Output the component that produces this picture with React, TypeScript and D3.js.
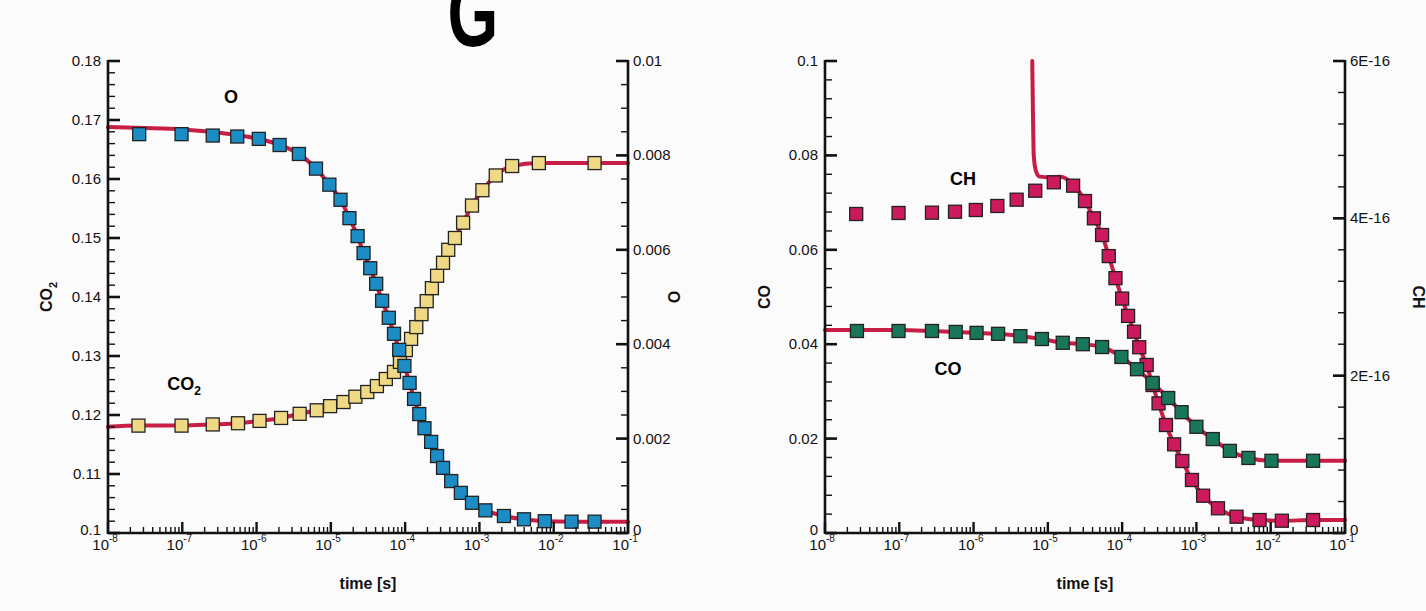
import React from 'react';
import * as d3 from 'd3';

// ---------- axes ----------
const X_EXPONENTS = [-8, -7, -6, -5, -4, -3, -2, -1];

const CO2_TICKS = [0.1, 0.11, 0.12, 0.13, 0.14, 0.15, 0.16, 0.17, 0.18];
const CO2_LABELS = ['0.1', '0.11', '0.12', '0.13', '0.14', '0.15', '0.16', '0.17', '0.18'];
const O_TICKS = [0, 0.002, 0.004, 0.006, 0.008, 0.01];
const O_LABELS = ['0', '0.002', '0.004', '0.006', '0.008', '0.01'];
const CO_TICKS = [0, 0.02, 0.04, 0.06, 0.08, 0.1];
const CO_LABELS = ['0', '0.02', '0.04', '0.06', '0.08', '0.1'];
const CH_TICKS = [0, 2e-16, 4e-16, 6e-16];
const CH_LABELS = ['0', '2E-16', '4E-16', '6E-16'];

// ---------- left panel data (log10 time, value) ----------
const O_MARK_LOGT = [-7.58, -7.01, -6.59, -6.26, -5.97, -5.69, -5.43, -5.2, -5.02, -4.87, -4.75, -4.64, -4.56, -4.47, -4.39, -4.31, -4.22, -4.15, -4.08, -4.01, -3.94, -3.88, -3.81, -3.74, -3.65, -3.57, -3.49, -3.38, -3.25, -3.1, -2.92, -2.67, -2.4, -2.12, -1.76, -1.45];
const O_MARK_VAL = [0.00845, 0.00845, 0.00842, 0.0084, 0.00835, 0.00822, 0.00803, 0.00772, 0.00738, 0.00706, 0.00667, 0.00629, 0.00593, 0.00561, 0.00528, 0.00492, 0.00456, 0.00422, 0.00388, 0.00354, 0.00318, 0.00284, 0.00252, 0.00222, 0.00193, 0.00163, 0.00138, 0.0011, 0.00085, 0.00064, 0.00048, 0.00036, 0.00029, 0.00025, 0.00024, 0.00024];
const O_LINE_HEAD_LOGT = [-8, -7.5, -7, -6.5, -6, -5.7];
const O_LINE_HEAD_VAL = [0.0086, 0.00858, 0.00855, 0.00848, 0.00836, 0.00823];
const O_LINE_TAIL_LOGT = [-1];
const O_LINE_TAIL_VAL = [0.00024];

const CO2_MARK_LOGT = [-7.59, -7.01, -6.59, -6.25, -5.96, -5.67, -5.42, -5.19, -5.01, -4.83, -4.67, -4.51, -4.38, -4.26, -4.15, -4.07, -3.99, -3.92, -3.85, -3.78, -3.71, -3.64, -3.57, -3.49, -3.42, -3.33, -3.22, -3.1, -2.96, -2.78, -2.56, -2.2, -1.45];
const CO2_MARK_VAL = [0.1182, 0.1182, 0.1184, 0.1186, 0.119, 0.1195, 0.1202, 0.1208, 0.1215, 0.1222, 0.1231, 0.1239, 0.1249, 0.1261, 0.1273, 0.129, 0.131, 0.1329, 0.1349, 0.1371, 0.1393, 0.1415, 0.1436, 0.1458, 0.148, 0.15, 0.1526, 0.1555, 0.1581, 0.1606, 0.1622, 0.1627, 0.1627];
const CO2_LINE_HEAD_LOGT = [-8];
const CO2_LINE_HEAD_VAL = [0.118];
const CO2_LINE_TAIL_LOGT = [-1];
const CO2_LINE_TAIL_VAL = [0.1627];

// ---------- right panel data ----------
const CO_MARK_LOGT = [-7.57, -7.01, -6.56, -6.24, -5.96, -5.67, -5.37, -5.08, -4.8, -4.53, -4.27, -4.01, -3.8, -3.59, -3.38, -3.2, -3.0, -2.78, -2.55, -2.3, -1.99, -1.43];
const CO_MARK_VAL = [0.0428, 0.0428, 0.0428, 0.0426, 0.0424, 0.0422, 0.0417, 0.0411, 0.0403, 0.04, 0.0394, 0.0373, 0.0347, 0.0318, 0.0286, 0.0256, 0.0225, 0.0199, 0.0174, 0.0159, 0.0153, 0.0153];
const CO_LINE_HEAD_LOGT = [-8, -7];
const CO_LINE_HEAD_VAL = [0.043, 0.043];
const CO_LINE_TAIL_LOGT = [-1];
const CO_LINE_TAIL_VAL = [0.0153];

// CH in units of 1e-16
const CH_MARK_LOGT = [-7.58, -7.01, -6.56, -6.25, -5.97, -5.68, -5.42, -5.17, -4.92, -4.66, -4.5, -4.38, -4.27, -4.18, -4.09, -4.0, -3.92, -3.84, -3.77, -3.67, -3.59, -3.51, -3.41, -3.3, -3.19, -3.06, -2.91, -2.71, -2.46, -2.15, -1.85, -1.43];
const CH_MARK_VAL = [4.055, 4.068, 4.072, 4.084, 4.106, 4.157, 4.237, 4.351, 4.458, 4.415, 4.22, 4.0, 3.788, 3.52, 3.24, 2.98, 2.76, 2.559, 2.361, 2.136, 1.881, 1.648, 1.373, 1.127, 0.915, 0.674, 0.474, 0.314, 0.207, 0.165, 0.156, 0.165];
const CH_LINE_HEAD_LOGT = [-5.21, -5.2, -5.19, -5.16, -5.11, -4.97, -4.84, -4.7];
const CH_LINE_HEAD_VAL = [6.0, 5.3, 4.8, 4.6, 4.53, 4.52, 4.53, 4.47];
const CH_LINE_TAIL_LOGT = [-1];
const CH_LINE_TAIL_VAL = [0.165];

// ---------- styling ----------
const TOP = 61;
const BOTTOM = 533;
const LINE_COLOR = '#c81d45';
const FONT = "'Liberation Sans', Arial, Helvetica, sans-serif";

type Pt = { t: number; v: number };
const zipPts = (lt: number[], v: number[], scale = 1): Pt[] => lt.map((l, i) => ({ t: Math.pow(10, l), v: v[i] * scale }));

function Panel(props: {
  x0: number; x1: number;
  lDomain: [number, number]; lTicks: number[]; lLabels: string[]; lMinor: number;
  rDomain: [number, number]; rTicks: number[]; rLabels: string[]; rMinor: number;
  lTitle: React.ReactNode; rTitle: React.ReactNode; lTitleX: number; rTitleX: number;
  children: (x: d3.ScaleLogarithmic<number, number>, yl: d3.ScaleLinear<number, number>, yr: d3.ScaleLinear<number, number>) => React.ReactNode;
}) {
  const { x0, x1 } = props;
  const x = d3.scaleLog().domain([1e-8, 1e-1]).range([x0, x1]);
  const yl = d3.scaleLinear().domain(props.lDomain).range([BOTTOM, TOP]);
  const yr = d3.scaleLinear().domain(props.rDomain).range([BOTTOM, TOP]);
  const minorX: number[] = [];
  X_EXPONENTS.slice(0, -1).forEach((e) => {
    for (let m = 2; m <= 9; m++) minorX.push(m * Math.pow(10, e));
  });
  const lMinor = d3.range(props.lDomain[0], props.lDomain[1] + 1e-30, props.lMinor);
  const rMinor = d3.range(props.rDomain[0], props.rDomain[1] + 1e-40, props.rMinor);
  return (
    <g>
      {props.children(x, yl, yr)}
      <g stroke="#111" fill="none">
        <line x1={x0} x2={x0} y1={TOP - 1} y2={BOTTOM + 1} strokeWidth={2.6} />
        <line x1={x1} x2={x1} y1={TOP - 1} y2={BOTTOM + 1} strokeWidth={2.6} />
        <line x1={x0} x2={x1} y1={BOTTOM} y2={BOTTOM} strokeWidth={2.6} />
        {minorX.map((t, i) => (
          <line key={'mx' + i} x1={x(t)} x2={x(t)} y1={BOTTOM} y2={BOTTOM - 6} strokeWidth={1.4} />
        ))}
        {X_EXPONENTS.map((e) => (
          <line key={'Mx' + e} x1={x(Math.pow(10, e))} x2={x(Math.pow(10, e))} y1={BOTTOM} y2={BOTTOM - 11} strokeWidth={2.4} />
        ))}
        {lMinor.map((v, i) => (
          <line key={'ml' + i} x1={x0} x2={x0 + 7} y1={yl(v)} y2={yl(v)} strokeWidth={1.4} />
        ))}
        {props.lTicks.map((v, i) => (
          <line key={'Ml' + i} x1={x0} x2={x0 + 12} y1={yl(v)} y2={yl(v)} strokeWidth={2.6} />
        ))}
        {rMinor.map((v, i) => (
          <line key={'mr' + i} x1={x1} x2={x1 - 7} y1={yr(v)} y2={yr(v)} strokeWidth={1.4} />
        ))}
        {props.rTicks.map((v, i) => (
          <line key={'Mr' + i} x1={x1} x2={x1 - 12} y1={yr(v)} y2={yr(v)} strokeWidth={2.6} />
        ))}
      </g>
      <g fontFamily={FONT} fontSize={15} fill="#111">
        {props.lTicks.map((v, i) => (
          <text key={'tl' + i} x={x0 - 7} y={yl(v) + 5 - (i === 0 ? 3 : 0)} textAnchor="end">{props.lLabels[i]}</text>
        ))}
        {props.rTicks.map((v, i) => (
          <text key={'tr' + i} x={x1 + 5} y={yr(v) + 5 - (i === 0 ? 3 : 0)} textAnchor="start">{props.rLabels[i]}</text>
        ))}
        {X_EXPONENTS.map((e) => (
          <g key={'xl' + e}>
            <text x={x(Math.pow(10, e)) + 1} y={550} textAnchor="end">10</text>
            <text x={x(Math.pow(10, e)) + 1} y={542} fontSize={10} textAnchor="start">{String(e)}</text>
          </g>
        ))}
      </g>
      <g fontFamily={FONT} fontWeight="bold" fontSize={16} fill="#111">
        <text x={(x0 + x1) / 2} y={589} textAnchor="middle">time [s]</text>
        <text transform={`translate(${props.lTitleX},${(TOP + BOTTOM) / 2}) rotate(-90)`} textAnchor="middle">{props.lTitle}</text>
        <text transform={`translate(${props.rTitleX},${(TOP + BOTTOM) / 2}) rotate(90)`} textAnchor="middle">{props.rTitle}</text>
      </g>
    </g>
  );
}

function Markers({ pts, x, y, fill }: { pts: Pt[]; x: (t: number) => number; y: (v: number) => number; fill: string }) {
  const s = 13;
  return (
    <g>
      {pts.map((p, i) => (
        <rect key={i} x={x(p.t) - s / 2} y={y(p.v) - s / 2} width={s} height={s} fill={fill} stroke="#222" strokeWidth={1.3} />
      ))}
    </g>
  );
}

function Curve({ pts, x, y }: { pts: Pt[]; x: (t: number) => number; y: (v: number) => number }) {
  const gen = d3.line<Pt>().x((p) => x(p.t)).y((p) => y(p.v)).curve(d3.curveMonotoneX);
  return <path d={gen(pts) || ''} fill="none" stroke={LINE_COLOR} strokeWidth={4} strokeLinejoin="round" strokeLinecap="round" />;
}

export default function App() {
  const oMarks = zipPts(O_MARK_LOGT, O_MARK_VAL);
  const oLine = [...zipPts(O_LINE_HEAD_LOGT, O_LINE_HEAD_VAL), ...oMarks.slice(6), ...zipPts(O_LINE_TAIL_LOGT, O_LINE_TAIL_VAL)];
  const co2Marks = zipPts(CO2_MARK_LOGT, CO2_MARK_VAL);
  const co2Line = [...zipPts(CO2_LINE_HEAD_LOGT, CO2_LINE_HEAD_VAL), ...co2Marks, ...zipPts(CO2_LINE_TAIL_LOGT, CO2_LINE_TAIL_VAL)];
  const coMarks = zipPts(CO_MARK_LOGT, CO_MARK_VAL);
  const coLine = [...zipPts(CO_LINE_HEAD_LOGT, CO_LINE_HEAD_VAL), ...coMarks.slice(2), ...zipPts(CO_LINE_TAIL_LOGT, CO_LINE_TAIL_VAL)];
  const chMarks = zipPts(CH_MARK_LOGT, CH_MARK_VAL, 1e-16);
  const chLine = [...zipPts(CH_LINE_HEAD_LOGT, CH_LINE_HEAD_VAL, 1e-16), ...chMarks.slice(10), ...zipPts(CH_LINE_TAIL_LOGT, CH_LINE_TAIL_VAL, 1e-16)];

  return (
    <svg width={1426} height={611} style={{ position: 'absolute', left: 0, top: 0, background: '#fcfbfb' }}>
      {/* cut-off heading glyph at the top edge */}
      <text transform="translate(473,46) scale(0.68,1)" fontFamily={FONT} fontWeight="bold" fontSize={96} textAnchor="middle" fill="#000">G</text>
      <Panel
        x0={108} x1={628}
        lDomain={[0.1, 0.18]} lTicks={CO2_TICKS} lLabels={CO2_LABELS} lMinor={0.002}
        rDomain={[0, 0.01]} rTicks={O_TICKS} rLabels={O_LABELS} rMinor={0.0005}
        lTitle={<>CO<tspan fontSize={11} dy={5}>2</tspan></>} rTitle="O" lTitleX={52} rTitleX={668}
      >
        {(x, yl, yr) => (
          <g>
            <Curve pts={co2Line} x={x} y={yl} />
            <Curve pts={oLine} x={x} y={yr} />
            <Markers pts={co2Marks} x={x} y={yl} fill="#efd985" />
            <Markers pts={oMarks} x={x} y={yr} fill="#1b8cc4" />
            <text x={231} y={103} fontFamily={FONT} fontWeight="bold" fontSize={18} textAnchor="middle">O</text>
            <text x={184} y={390} fontFamily={FONT} fontWeight="bold" fontSize={18} textAnchor="middle">CO<tspan fontSize={12} dy={5}>2</tspan></text>
          </g>
        )}
      </Panel>
      <Panel
        x0={825} x1={1345}
        lDomain={[0, 0.1]} lTicks={CO_TICKS} lLabels={CO_LABELS} lMinor={0.004}
        rDomain={[0, 6e-16]} rTicks={CH_TICKS} rLabels={CH_LABELS} rMinor={0.4e-16}
        lTitle="CO" rTitle="CH" lTitleX={770} rTitleX={1413}
      >
        {(x, yl, yr) => (
          <g>
            <Curve pts={coLine} x={x} y={yl} />
            <Curve pts={chLine} x={x} y={yr} />
            <Markers pts={chMarks} x={x} y={yr} fill="#cc1a5c" />
            <Markers pts={coMarks} x={x} y={yl} fill="#18775a" />
            <text x={963} y={185} fontFamily={FONT} fontWeight="bold" fontSize={18} textAnchor="middle">CH</text>
            <text x={948} y={375} fontFamily={FONT} fontWeight="bold" fontSize={18} textAnchor="middle">CO</text>
          </g>
        )}
      </Panel>
    </svg>
  );
}
